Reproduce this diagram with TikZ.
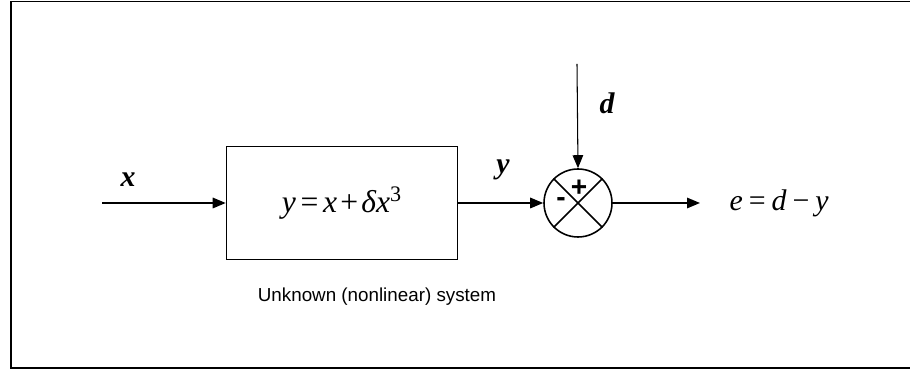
\documentclass[tikz,border=0pt]{standalone}
\usepackage{fontspec}
\setmainfont{Liberation Serif}
\setsansfont{Liberation Sans}
\usetikzlibrary{arrows.meta,positioning}

\begin{document}
\begin{tikzpicture}[
    x=0.02cm,y=-0.02cm,
    line width=0.9pt,
    node distance=0.2cm,
    sysbox/.style={rectangle,draw,minimum width=4.62cm,minimum height=2.26cm,
      inner sep=0pt,font=\fontsize{18}{20}\selectfont},
    sumnode/.style={circle,draw,minimum size=1.36cm,inner sep=0pt},
    siglabel/.style={font=\fontsize{17}{19}\selectfont\bfseries\itshape},
    signlabel/.style={font=\fontsize{16}{18}\selectfont\sffamily\bfseries,inner sep=0pt},
    arrow/.style={-{Triangle[length=0.26cm,width=0.21cm]}}
  ]
    \useasboundingbox (0,0) rectangle (910,374);
    % frame, open on the right
    \draw[line width=0.7pt] (910,1.5) -- (11,1.5) -- (11,368) -- (910,368);
    \draw[line width=1.6pt] (11,368) -- (910,368);

    \node[sysbox] (plant) at (342,203) {\textit{y}\hspace{0.15em}=\hspace{0.15em}\textit{x}\hspace{0.1em}+\hspace{0.1em}\textit{δx}\textsuperscript{3}};
    \node[sumnode] (sum) at (578,203) {};
    \coordinate (xin) at (102,203);
    \coordinate (din) at (577,64);
    \coordinate (eout) at (700,203);

    \draw (sum.north west) -- (sum.south east);
    \draw (sum.north east) -- (sum.south west);
    \node[signlabel] (plus) at (579,188) {+};
    \node[signlabel] (minus) at (561,202) {-};

    \draw[arrow] (xin) -- (plant.west);
    \draw[arrow] (plant.east) -- (sum.west);
    \draw[arrow,line width=0.6pt] (din) -- (sum.north);
    \draw[arrow] (sum.east) -- (eout);

    \node[siglabel] (xlab) at (128,180) {x};
    \node[siglabel] (ylab) at (503,170) {y};
    \node[siglabel] (dlab) at (607,103) {d};
    \node[right=0.46cm of eout,font=\fontsize{17}{19}\selectfont] (elab)
      {\textit{e}\hspace{0.2em}=\hspace{0.2em}\textit{d}\hspace{0.2em}−\hspace{0.2em}\textit{y}};
    \node[font=\fontsize{10.7}{13}\selectfont\sffamily] (syslab) at (377,297)
      {Unknown (nonlinear) system};
\end{tikzpicture}
\end{document}
